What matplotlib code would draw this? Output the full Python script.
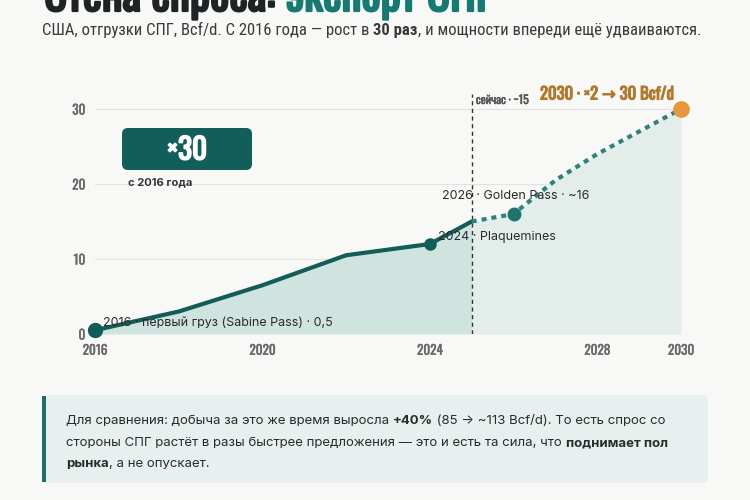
import matplotlib
matplotlib.use("Agg")
import matplotlib.pyplot as plt
import matplotlib.patheffects as pe
from matplotlib.patches import FancyBboxPatch, Rectangle

# data (Bcf/d)
hist_years = [2016, 2018, 2020, 2022, 2024, 2025]
hist_vals = [0.5, 3.0, 6.5, 10.5, 12.0, 15.0]
proj_years = [2025, 2026, 2027, 2028, 2029, 2030]
proj_vals = [15.0, 16.0, 20.5, 24.0, 27.0, 30.0]
x_ticks = [2016, 2020, 2024, 2028, 2030]
y_ticks = [0, 10, 20, 30]

BG = "#f8f8f6"
TEAL = "#135d58"
TEAL2 = "#2f827b"
ORANGE = "#e5993a"
OSWALD = ["Oswald", "Roboto Condensed", "DejaVu Sans"]
COND = ["Roboto Condensed", "Oswald", "DejaVu Sans"]
SANS = ["Inter", "DejaVu Sans"]

W, H = 750, 500
fig = plt.figure(figsize=(7.5, 5), dpi=100, facecolor=BG)


def fx(px):
    return px / W


def fy(py):
    return 1 - py / H


def fat(color, w=0.8):
    # oswald only comes in one weight here, so thicken it with a stroke
    return [pe.withStroke(linewidth=w, foreground=color)]


def rich(x, y, parts, size, family=SANS, colors=None, color="#2b2b2b", stroke=0):
    # draw text pieces one after another on one baseline
    xf = fx(x)
    r = fig.canvas.get_renderer()
    for i, (txt, bold) in enumerate(parts):
        c = colors[i] if colors else color
        t = fig.text(xf, fy(y), txt, fontsize=size,
                     fontweight="bold" if bold else "normal",
                     family=family, color=c, va="baseline", ha="left")
        if stroke:
            t.set_path_effects(fat(c, stroke))
        e = t.get_window_extent(r)
        xf = e.x1 / fig.bbox.width


# title (cut off at top) and subtitle
rich(44, 11, [("Стена спроса: ", True), ("экспорт СПГ", True)], 32.5,
     family=OSWALD, colors=["#1f2326", "#177a72"], stroke=1.6)

rich(42, 35, [("США, отгрузки СПГ, Bcf/d. С 2016 года — рост в ", False),
              ("30 раз", True),
              (", и мощности впереди ещё удваиваются.", False)],
     12, family=COND, color="#3a3a3a")

# main axes
ax = fig.add_axes([fx(95), fy(334), fx(681) - fx(95), (334 - 94) / H])
ax.set_facecolor(BG)
ax.set_xlim(2016, 2030)
ax.set_ylim(0, 32)

ax.fill_between(hist_years, hist_vals, color="#cfe3df", lw=0, zorder=1)
ax.fill_between(proj_years, proj_vals, color="#e3eeeb", lw=0, zorder=1)
ax.plot(hist_years, hist_vals, color=TEAL, lw=3, solid_capstyle="round", zorder=3)
ax.plot(proj_years, proj_vals, color=TEAL2, lw=3, ls=(0, (1.2, 1.2)), zorder=3)

ax.plot([2016], [hist_vals[0]], "o", ms=10, color=TEAL, clip_on=False, zorder=4)
ax.plot([2024], [hist_vals[4]], "o", ms=8, color=TEAL, zorder=4)
ax.plot([2026], [proj_vals[1]], "o", ms=9, color="#1d746c", zorder=4)
ax.plot([2030], [proj_vals[-1]], "o", ms=11, color=ORANGE, clip_on=False, zorder=5)

ax.axvline(2025, ymin=0, ymax=1, color="#333333", lw=1, ls=(0, (3, 2.5)), zorder=2)

ax.set_xticks(x_ticks)
ax.set_yticks(y_ticks)
ax.set_xticklabels([str(v) for v in x_ticks], family=OSWALD, fontsize=9.5,
                   color="#6a6a6a")
ax.set_yticklabels([str(v) for v in y_ticks], family=OSWALD, fontsize=9.5,
                   color="#6a6a6a")
for lab in ax.get_xticklabels() + ax.get_yticklabels():
    lab.set_path_effects(fat("#6a6a6a", 0.3))
ax.tick_params(length=0, pad=7)
for s in ax.spines.values():
    s.set_visible(False)
ax.grid(axis="y", color="#e2e2e2", lw=0.8, zorder=0)
ax.set_axisbelow(True)

ax.text(2016.19, 1.5, "2016 · первый груз (Sabine Pass) · 0,5", fontsize=9,
        family=SANS, color="#2b2b2b", va="center", zorder=6)
ax.text(2024.19, 12.9, "2024 · Plaquemines", fontsize=9, family=SANS,
        color="#2b2b2b", va="center", zorder=6)
ax.text(2024.29, 18.4, "2026 · Golden Pass · ~16", fontsize=9, family=SANS,
        color="#2b2b2b", va="center", zorder=6)
ax.text(2025.1, 31.2, "сейчас · ~15", fontsize=8.5, family=OSWALD,
        color="#555555", va="center", clip_on=False,
        path_effects=fat("#555555", 0.3))
ax.text(2029.83, 32.0, "2030 · ×2 → 30 Bcf/d", fontsize=12, family=OSWALD,
        color="#b07a2e", va="center", ha="right", clip_on=False,
        path_effects=fat("#b07a2e", 0.8))

# x30 badge
badge = FancyBboxPatch((fx(122), fy(170)), fx(252) - fx(122), fy(128) - fy(170),
                       boxstyle="round,pad=0,rounding_size=0.008",
                       mutation_aspect=1.5, transform=fig.transFigure,
                       facecolor="#115e5a", edgecolor="none", zorder=10)
fig.patches.append(badge)
fig.text(fx(187), fy(150), "×30", fontsize=21, family=OSWALD,
         color="white", ha="center", va="center", zorder=11,
         path_effects=fat("white", 1.2))
fig.text(fx(128), fy(182), "с 2016 года", fontsize=8, fontweight="bold",
         family=SANS, color="#333333", va="center", zorder=11)

# note box at bottom
note = FancyBboxPatch((fx(42), fy(483)), fx(708) - fx(42), fy(395) - fy(483),
                      boxstyle="round,pad=0,rounding_size=0.008",
                      mutation_aspect=1.5, transform=fig.transFigure,
                      facecolor="#e8f0ef", edgecolor="none")
fig.patches.append(note)
fig.patches.append(Rectangle((fx(42), fy(482)), fx(4), fy(396) - fy(482),
                             transform=fig.transFigure, facecolor="#1d6f68",
                             edgecolor="none"))

rich(66, 424, [("Для сравнения: добыча за это же время выросла ", False),
               ("+40%", True),
               (" (85 → ~113 Bcf/d). То есть спрос со", False)], 9.5)
rich(66, 446, [("стороны СПГ растёт в разы быстрее предложения — это и есть та сила, что ", False),
               ("поднимает пол", True)], 9.5)
rich(66, 467, [("рынка", True), (", а не опускает.", False)], 9.5)

fig.savefig("out.png", dpi=100, facecolor=BG)
